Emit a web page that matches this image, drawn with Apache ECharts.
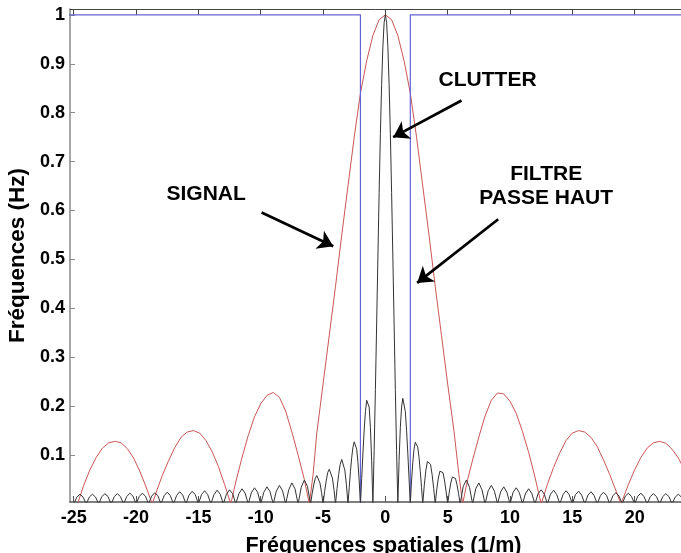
<!DOCTYPE html>
<html>
<head>
<meta charset="utf-8">
<script src="https://cdn.jsdelivr.net/npm/echarts@6/dist/echarts.min.js"></script>
<style>
html,body{margin:0;padding:0;background:#fff;}
#chart{width:681px;height:553px;}
</style>
</head>
<body>
<div id="chart"></div>
<script>
// ---- tick labels ----
var xTickValues = [-25, -20, -15, -10, -5, 0, 5, 10, 15, 20, 25];
var xTickLabels = [-25, -20, -15, -10, -5, 0, 5, 10, 15, 20];
var yTickLabels = [0.1, 0.2, 0.3, 0.4, 0.5, 0.6, 0.7, 0.8, 0.9, 1];

// ---- filtre passe haut (blue) ----
var filterPts = [[-25.5, 1], [-2, 1], [-2, 0], [2, 0], [2, 1], [25.5, 1]];

// ---- signal (red) ----
var signalPts = [
  [-24.7, 0], [-24.2, 0.038], [-23.7, 0.07], [-23.2, 0.095], [-22.7, 0.114], [-22.2, 0.125], [-21.65, 0.128],
  [-21.2, 0.125], [-20.7, 0.113], [-20.2, 0.094], [-19.7, 0.067], [-19.2, 0.035], [-18.7, 0],
  [-18.3, 0.03], [-17.9, 0.058], [-17.4, 0.088], [-16.9, 0.115], [-16.4, 0.136], [-15.9, 0.147], [-15.4, 0.15],
  [-14.9, 0.145], [-14.4, 0.13], [-13.9, 0.107], [-13.4, 0.077], [-12.9, 0.04], [-12.4, 0],
  [-12, 0.045], [-11.5, 0.095], [-11, 0.14], [-10.5, 0.178], [-10, 0.205], [-9.5, 0.222], [-9, 0.228],
  [-8.5, 0.218], [-8, 0.19], [-7.5, 0.147], [-7, 0.1], [-6.5, 0.05], [-6.1, 0],
  [-5.8, 0.06], [-5.5, 0.145], [-5, 0.245], [-4.5, 0.345], [-4, 0.445], [-3.5, 0.55], [-3, 0.65], [-2.5, 0.75],
  [-2, 0.84], [-1.5, 0.906], [-1, 0.958], [-0.5, 0.99], [0, 1],
  [0.5, 0.99], [1, 0.958], [1.5, 0.906], [2, 0.84], [2.5, 0.75], [3, 0.65], [3.5, 0.55], [4, 0.445],
  [4.5, 0.345], [5, 0.245], [5.5, 0.15], [5.9, 0.06], [6.2, 0],
  [6.6, 0.05], [7, 0.09], [7.5, 0.137], [8, 0.18], [8.5, 0.212], [9, 0.227], [9.5, 0.225], [10, 0.21],
  [10.5, 0.185], [11, 0.148], [11.5, 0.105], [12, 0.055], [12.5, 0],
  [13, 0.04], [13.5, 0.075], [14, 0.105], [14.5, 0.13], [15, 0.145], [15.5, 0.15], [16, 0.147], [16.5, 0.136],
  [17, 0.117], [17.5, 0.09], [18, 0.06], [18.5, 0.027], [18.9, 0],
  [19.5, 0.04], [20, 0.07], [20.5, 0.095], [21, 0.114], [21.5, 0.125], [22, 0.128], [22.5, 0.124], [23, 0.112],
  [23.5, 0.094], [24, 0.07], [24.5, 0.042], [25.2, 0]
];

// ---- clutter (black) ----
var clutterPts = [
  [-25, 0],
  [-24.75, 0.014], [-24.5, 0.020], [-24.25, 0.014], [-24, 0],
  [-23.75, 0.014], [-23.5, 0.020], [-23.25, 0.014], [-23, 0],
  [-22.75, 0.015], [-22.5, 0.021], [-22.25, 0.015], [-22, 0],
  [-21.75, 0.015], [-21.5, 0.021], [-21.25, 0.015], [-21, 0],
  [-20.75, 0.015], [-20.5, 0.022], [-20.25, 0.016], [-20, 0],
  [-19.75, 0.015], [-19.5, 0.022], [-19.25, 0.016], [-19, 0],
  [-18.75, 0.016], [-18.5, 0.023], [-18.25, 0.017], [-18, 0],
  [-17.75, 0.017], [-17.5, 0.024], [-17.25, 0.017], [-17, 0],
  [-16.75, 0.017], [-16.5, 0.025], [-16.25, 0.018], [-16, 0],
  [-15.75, 0.018], [-15.5, 0.026], [-15.25, 0.019], [-15, 0],
  [-14.75, 0.019], [-14.5, 0.027], [-14.25, 0.019], [-14, 0],
  [-13.75, 0.019], [-13.5, 0.028], [-13.25, 0.020], [-13, 0],
  [-12.75, 0.020], [-12.5, 0.029], [-12.25, 0.021], [-12, 0],
  [-11.75, 0.021], [-11.5, 0.031], [-11.25, 0.022], [-11, 0],
  [-10.75, 0.023], [-10.5, 0.033], [-10.25, 0.024], [-10, 0],
  [-9.75, 0.024], [-9.5, 0.035], [-9.25, 0.025], [-9, 0],
  [-8.75, 0.026], [-8.5, 0.038], [-8.25, 0.027], [-8, 0],
  [-7.75, 0.029], [-7.5, 0.043], [-7.25, 0.031], [-7, 0],
  [-6.75, 0.034], [-6.5, 0.049], [-6.25, 0.036], [-6, 0],
  [-5.875, 0.021], [-5.75, 0.039], [-5.625, 0.052], [-5.5, 0.058], [-5.375, 0.055], [-5.25, 0.043], [-5.125, 0.024], [-5, 0],
  [-4.875, 0.025], [-4.75, 0.047], [-4.625, 0.064], [-4.5, 0.071], [-4.375, 0.067], [-4.25, 0.053], [-4.125, 0.030], [-4, 0],
  [-3.875, 0.032], [-3.75, 0.060], [-3.625, 0.081], [-3.5, 0.091], [-3.375, 0.087], [-3.25, 0.069], [-3.125, 0.039], [-3, 0],
  [-2.9, 0.034], [-2.8, 0.067], [-2.7, 0.095], [-2.6, 0.116], [-2.5, 0.127], [-2.4, 0.126], [-2.3, 0.112], [-2.2, 0.085], [-2.1, 0.047], [-2, 0],
  [-1.9, 0.052], [-1.8, 0.104], [-1.7, 0.151], [-1.6, 0.189], [-1.5, 0.212], [-1.4, 0.216], [-1.3, 0.198], [-1.2, 0.156], [-1.1, 0.089], [-1, 0],
  [-0.9, 0.109], [-0.8, 0.234], [-0.7, 0.368], [-0.6, 0.505], [-0.5, 0.637], [-0.4, 0.757], [-0.3, 0.858], [-0.2, 0.935], [-0.1, 0.984], [0, 1],
  [0.1, 0.984], [0.2, 0.935], [0.3, 0.858], [0.4, 0.757], [0.5, 0.637], [0.6, 0.505], [0.7, 0.368], [0.8, 0.234], [0.9, 0.109], [1, 0],
  [1.1, 0.089], [1.2, 0.156], [1.3, 0.198], [1.4, 0.216], [1.5, 0.212], [1.6, 0.189], [1.7, 0.151], [1.8, 0.104], [1.9, 0.052], [2, 0],
  [2.1, 0.047], [2.2, 0.085], [2.3, 0.112], [2.4, 0.126], [2.5, 0.127], [2.6, 0.116], [2.7, 0.095], [2.8, 0.067], [2.9, 0.034], [3, 0],
  [3.125, 0.039], [3.25, 0.069], [3.375, 0.087], [3.5, 0.091], [3.625, 0.081], [3.75, 0.060], [3.875, 0.032], [4, 0],
  [4.125, 0.030], [4.25, 0.053], [4.375, 0.067], [4.5, 0.071], [4.625, 0.064], [4.75, 0.047], [4.875, 0.025], [5, 0],
  [5.125, 0.024], [5.25, 0.043], [5.375, 0.055], [5.5, 0.058], [5.625, 0.052], [5.75, 0.039], [5.875, 0.021], [6, 0],
  [6.25, 0.036], [6.5, 0.049], [6.75, 0.034], [7, 0],
  [7.25, 0.031], [7.5, 0.043], [7.75, 0.029], [8, 0],
  [8.25, 0.027], [8.5, 0.038], [8.75, 0.026], [9, 0],
  [9.25, 0.025], [9.5, 0.035], [9.75, 0.024], [10, 0],
  [10.25, 0.024], [10.5, 0.033], [10.75, 0.023], [11, 0],
  [11.25, 0.022], [11.5, 0.031], [11.75, 0.021], [12, 0],
  [12.25, 0.021], [12.5, 0.029], [12.75, 0.020], [13, 0],
  [13.25, 0.020], [13.5, 0.028], [13.75, 0.019], [14, 0],
  [14.25, 0.019], [14.5, 0.027], [14.75, 0.019], [15, 0],
  [15.25, 0.019], [15.5, 0.026], [15.75, 0.018], [16, 0],
  [16.25, 0.018], [16.5, 0.025], [16.75, 0.017], [17, 0],
  [17.25, 0.017], [17.5, 0.024], [17.75, 0.017], [18, 0],
  [18.25, 0.017], [18.5, 0.023], [18.75, 0.016], [19, 0],
  [19.25, 0.016], [19.5, 0.022], [19.75, 0.015], [20, 0],
  [20.25, 0.016], [20.5, 0.022], [20.75, 0.015], [21, 0],
  [21.25, 0.015], [21.5, 0.021], [21.75, 0.015], [22, 0],
  [22.25, 0.015], [22.5, 0.021], [22.75, 0.015], [23, 0],
  [23.25, 0.014], [23.5, 0.020], [23.75, 0.014], [24, 0],
  [24.25, 0.014], [24.5, 0.020], [24.75, 0.014], [25, 0]
];

// ---- annotations (data coordinates) ----
var labelTexts = ['SIGNAL', 'CLUTTER', 'FILTRE\nPASSE HAUT'];
var labelCoords = [[-14.38, 0.633], [8.2, 0.866], [12.9, 0.650]];
var arrowStarts = [[-9.93, 0.596], [6.11, 0.825], [9.05, 0.582]];
var arrowEnds = [[-4.18, 0.527], [0.63, 0.750], [2.55, 0.452]];

var FONT = '"Liberation Sans", Arial, Helvetica, sans-serif';

var chart = echarts.init(document.getElementById('chart'), null, {renderer: 'canvas'});

var markLineData = arrowStarts.map(function (s, i) {
  return [{coord: s}, {coord: arrowEnds[i]}];
});
var markPointData = labelTexts.map(function (t, i) {
  return {name: t, coord: labelCoords[i]};
});

var option = {
  animation: false,
  backgroundColor: '#ffffff',
  grid: {left: 70, right: -16, top: 9, bottom: 51, containLabel: false, outerBoundsMode: 'none'},
  xAxis: [
    {
      type: 'value', min: -25.3, max: 25, position: 'bottom',
      axisLine: {show: true, onZero: false, lineStyle: {color: '#555', width: 1.5}},
      axisTick: {show: true, inside: true, length: 6, customValues: xTickValues, lineStyle: {color: '#555', width: 1}},
      axisLabel: {show: true, customValues: xTickLabels, margin: 7, color: '#000', fontSize: 18, fontWeight: 'bold', fontFamily: FONT},
      splitLine: {show: false},
      name: 'Fréquences spatiales (1/m)', nameLocation: 'middle', nameGap: 33,
      nameTextStyle: {color: '#000', fontSize: 21.5, fontWeight: 'bold', fontFamily: FONT}
    },
    {
      type: 'value', min: -25.3, max: 25, position: 'top',
      axisLine: {show: true, onZero: false, lineStyle: {color: '#444', width: 1}},
      axisTick: {show: true, inside: true, length: 6, customValues: xTickValues, lineStyle: {color: '#444', width: 1}},
      axisLabel: {show: false},
      splitLine: {show: false}
    }
  ],
  yAxis: [
    {
      type: 'value', min: 0.004, max: 1.012,
      axisLine: {show: true, onZero: false, lineStyle: {color: '#8a8a8a', width: 1.5}},
      axisTick: {show: true, inside: true, length: 5, customValues: yTickLabels, lineStyle: {color: '#8a8a8a', width: 1}},
      axisLabel: {show: true, customValues: yTickLabels, margin: 5, color: '#000', fontSize: 18, fontWeight: 'bold', fontFamily: FONT},
      splitLine: {show: false},
      name: 'Fréquences (Hz)', nameLocation: 'middle', nameGap: 29, nameRotate: 90,
      nameTextStyle: {color: '#000', fontSize: 22.5, fontWeight: 'bold', fontFamily: FONT}
    }
  ],
  series: [
    {
      name: 'signal', type: 'line', data: signalPts, showSymbol: false, symbol: 'none', clip: true,
      lineStyle: {color: '#cc5555', width: 1}, silent: true, z: 2
    },
    {
      name: 'filtre', type: 'line', data: filterPts, showSymbol: false, symbol: 'none', clip: true,
      lineStyle: {color: '#6464d8', width: 1.2}, silent: true, z: 3
    },
    {
      name: 'clutter', type: 'line', data: clutterPts, showSymbol: false, symbol: 'none', clip: true,
      lineStyle: {color: '#333', width: 1}, silent: true, z: 4,
      markLine: {
        silent: true, animation: false,
        symbol: ['none', 'arrow'], symbolSize: 15,
        lineStyle: {color: '#000', width: 2.7, type: 'solid'},
        label: {show: false},
        emphasis: {disabled: true},
        data: markLineData
      },
      markPoint: {
        silent: true, animation: false,
        symbol: 'circle', symbolSize: 1,
        itemStyle: {color: 'rgba(0,0,0,0)'},
        label: {
          show: true, position: 'inside', formatter: function (p) { return p.name; },
          color: '#000', fontSize: 21, fontWeight: 'bold', fontFamily: FONT, lineHeight: 23.5, align: 'center'
        },
        data: markPointData
      }
    }
  ]
};
chart.setOption(option);
</script>
</body>
</html>
